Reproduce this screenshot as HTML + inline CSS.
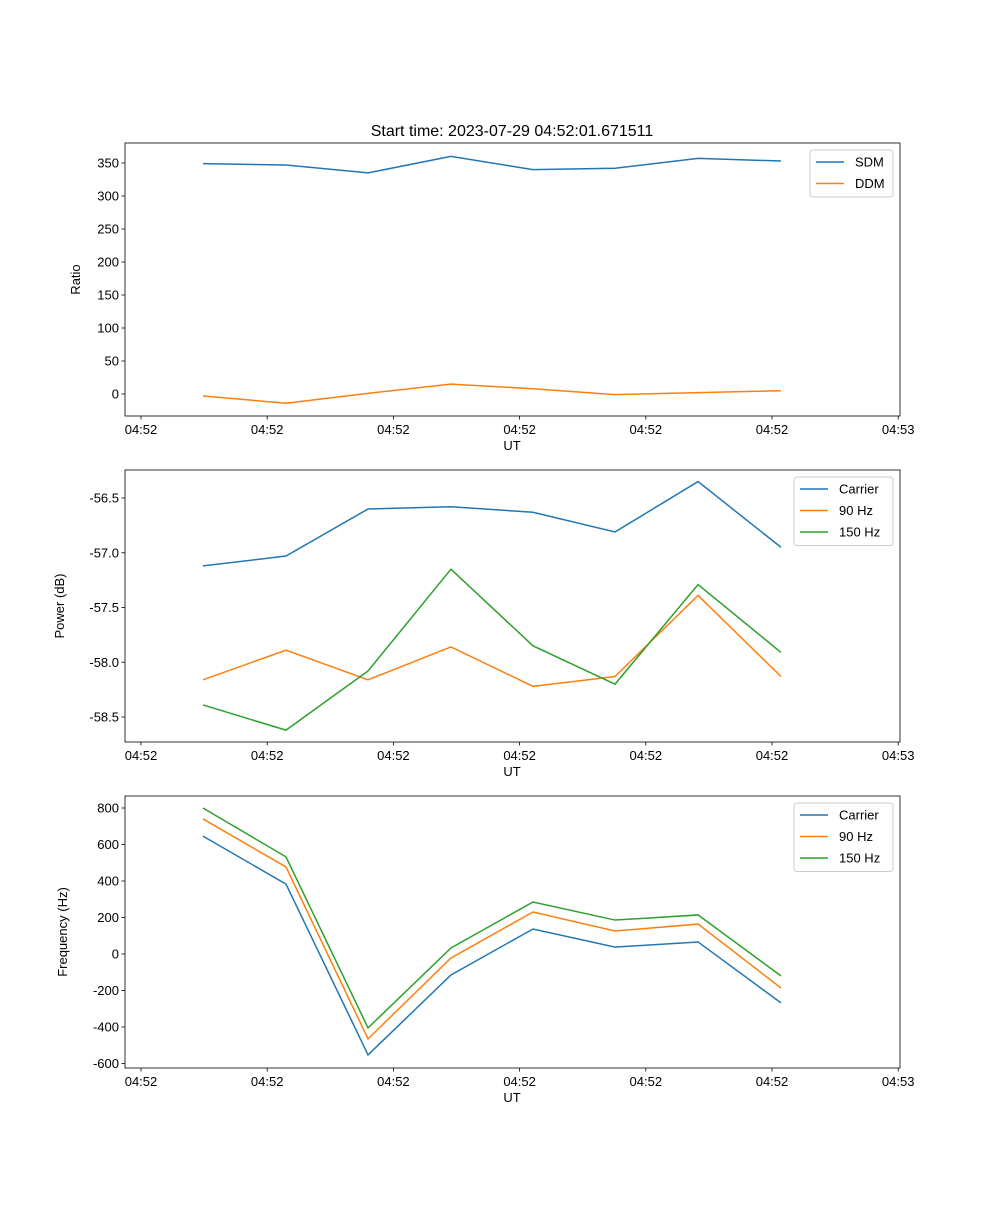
<!DOCTYPE html>
<html><head><meta charset="utf-8"><style>
body{margin:0;background:#fff;}
svg{font-family:"Liberation Sans","DejaVu Sans",sans-serif;}
</style></head><body>
<svg id="fig" width="1000" height="1200" xmlns="http://www.w3.org/2000/svg">
<rect width="1000" height="1200" fill="#fff"/>
<text x="512" y="136" font-size="16" text-anchor="middle">Start time: 2023-07-29 04:52:01.671511</text>
</svg>
<script>
const times = [4.91, 11.49, 17.99, 24.56, 31.06, 37.56, 44.14, 50.71];
const xTicks = [0, 10, 20, 30, 40, 50, 60];
const xTickLabels = ["04:52","04:52","04:52","04:52","04:52","04:52","04:53"];
const sdm = [349, 347, 335, 360, 340, 342, 357, 353];
const ddm = [-3, -14, 1, 15, 8, -1, 2, 5];
const carrierPow = [-57.12, -57.03, -56.60, -56.58, -56.63, -56.81, -56.35, -56.95];
const hz90Pow = [-58.16, -57.89, -58.16, -57.86, -58.22, -58.13, -57.39, -58.13];
const hz150Pow = [-58.39, -58.62, -58.08, -57.15, -57.85, -58.20, -57.29, -57.91];
const carrierFreq = [646, 383, -553, -115, 137, 38, 66, -268];
const hz90Freq = [740, 477, -465, -22, 230, 126, 164, -186];
const hz150Freq = [800, 532, -405, 33, 285, 186, 214, -120];
const ticks1 = [0,50,100,150,200,250,300,350];
const ticks2 = [-58.5,-58.0,-57.5,-57.0,-56.5];
const ticks3 = [-600,-400,-200,0,200,400,600,800];

const NS="http://www.w3.org/2000/svg";
const svg=document.getElementById('fig');
function mk(tag,attrs,parent){const e=document.createElementNS(NS,tag);for(const k in attrs)e.setAttribute(k,attrs[k]);(parent||svg).appendChild(e);return e;}
const X0=125,X1=900;
function xs(t){return 141+t*12.62;}
const C=['#1f77b4','#ff7f0e','#2ca02c'];

function panel(name,top,bot,yAt,yTicks,fmt,ylabel,ylabX,series,names,leg){
  const g=mk('g',{});
  
  
  series.forEach((s,i)=>{
    const p=mk('polyline',{points:s.map((v,j)=>xs(times[j])+','+yAt(v)).join(' '),fill:'none',stroke:C[i],'stroke-width':1.5},g);
    
    
  });
  const fr=mk('rect',{x:X0,y:top,width:X1-X0,height:bot-top,fill:'none',stroke:'#000','stroke-width':0.8},g);
  
  
  xTicks.forEach((t,i)=>{
    const x=xs(t);
    mk('line',{x1:x,x2:x,y1:bot,y2:bot+3.5,stroke:'#000','stroke-width':0.8},g);
    const tx=mk('text',{x:x,y:bot+18,'font-size':13,'text-anchor':'middle'},g);
    tx.textContent=xTickLabels[i];
    
    
  });
  yTicks.forEach(v=>{
    const y=yAt(v);
    mk('line',{x1:X0-3.5,x2:X0,y1:y,y2:y,stroke:'#000','stroke-width':0.8},g);
    const tx=mk('text',{x:X0-6,y:y+4.5,'font-size':13,'text-anchor':'end'},g);
    tx.textContent=fmt(v);
    
    
  });
  const xl=mk('text',{x:512,y:bot+34,'font-size':13,'text-anchor':'middle'},g);
  xl.textContent='UT';
  
  
  const cy=(top+bot)/2;
  const yl=mk('text',{x:ylabX,y:cy,'font-size':13,'text-anchor':'middle',transform:`rotate(-90 ${ylabX} ${cy})`},g);
  yl.textContent=ylabel;
  
  
  const lg=mk('g',{},g);
  
  
  mk('rect',{x:leg,y:top+7,width:893-leg,height:names.length*21.5+4,fill:'#fff',stroke:'#ccc',rx:3},lg);
  names.forEach((n,i)=>{
    const y=top+19+i*21.5;
    mk('line',{x1:leg+6,x2:leg+34,y1:y,y2:y,stroke:C[i],'stroke-width':1.5},lg);
    const t=mk('text',{x:leg+45,y:y+4.5,'font-size':13},lg);
    t.textContent=n;
    
    
  });
}
panel('ratio-panel',143,416,v=>394-v*0.66,ticks1,v=>String(v),'Ratio',80,[sdm,ddm],['SDM','DDM'],810);
panel('power-panel',470,742,v=>498-(v+56.5)*109.5,ticks2,v=>v.toFixed(1),'Power (dB)',64,[carrierPow,hz90Pow,hz150Pow],['Carrier','90 Hz','150 Hz'],794);
panel('frequency-panel',796,1068,v=>954-v*0.1825,ticks3,v=>String(v),'Frequency (Hz)',67,[carrierFreq,hz90Freq,hz150Freq],['Carrier','90 Hz','150 Hz'],794);
</script>
</body></html>
